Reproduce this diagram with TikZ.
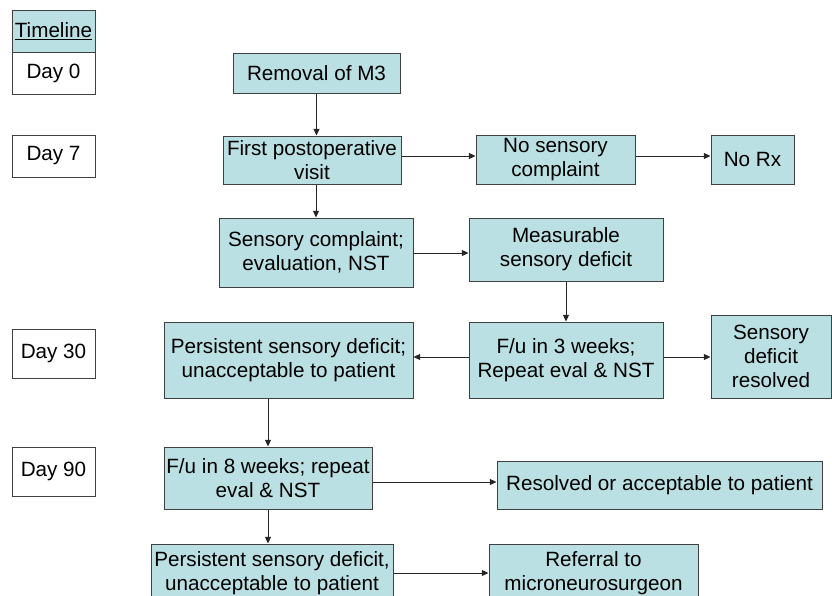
\documentclass[tikz,border=0pt]{standalone}
\usepackage{fontspec}
\setmainfont{Liberation Sans}
\usetikzlibrary{arrows.meta}

\definecolor{boxfill}{RGB}{187,224,227}
\tikzset{every picture/.style={line width=0.75pt}}
\tikzset{
  flowbox/.style 2 args={draw=black!75, fill=boxfill, align=center, inner sep=0.75pt,
    minimum width=#1*0.75pt, minimum height=#2*0.75pt, font=\fontsize{15.5}{18}\selectfont},
  daybox/.style 2 args={flowbox={#1}{#2}, fill=white},
  arr/.style={draw=black!85, -{Triangle[length=5pt,width=4.5pt]}},
}

\begin{document}
\begin{tikzpicture}[x=0.75pt,y=0.75pt,yscale=-1,xscale=1]
\clip (0,0) rectangle (832,596);

%Shape: Timeline column
\node[daybox={83}{42}, fill=boxfill] (tl) at (53.5,31) {\underline{Timeline}};
\node[daybox={83}{42}] (d0) at (53.5,73) {Day 0};
\node[daybox={83}{42}] (d7) at (53.5,156) {Day 7};
\node[daybox={83}{49}] (d30) at (53.5,353.5) {Day 30};
\node[daybox={83}{49}] (d90) at (53.5,471.5) {Day 90};

%Shape: Rectangle
\node[flowbox={167}{40}] (rem) at (316.5,73) {Removal of M3};
\node[flowbox={178}{48}] (first) at (312,160) {First postoperative\\visit};
\node[flowbox={159}{49}] (nocomp) at (555.5,159.5) {No sensory\\complaint};
\node[flowbox={83}{49}] (norx) at (752.5,159.5) {No Rx};
\node[flowbox={194}{69}] (comp) at (316,252.5) {Sensory complaint;\\evaluation, NST};
\node[flowbox={194}{63}] (meas) at (566,249.5) {Measurable\\sensory deficit};
\node[flowbox={194}{76}] (fu3) at (566,360) {F/u in 3 weeks;\\Repeat eval \& NST};
\node[flowbox={120}{83}] (resv) at (771,356.5) {Sensory\\deficit\\resolved};
\node[flowbox={249}{76}] (pers) at (288.5,360) {Persistent sensory deficit;\\unacceptable to patient};
\node[flowbox={208}{62}] (fu8) at (268,478) {F/u in 8 weeks; repeat\\eval \& NST};
\node[flowbox={325}{48}] (accept) at (659.5,485) {Resolved or acceptable to patient};
\node[flowbox={242}{58}] (pers2) at (272,573) {Persistent sensory deficit,\\unacceptable to patient};
\node[flowbox={209}{58}] (refer) at (593.5,573) {Referral to\\microneurosurgeon};

%Straight Lines
\draw[arr] (rem) -- (rem |- first.north);
\draw[arr] (first.east |- 0,156) -- (nocomp.west |- 0,156);
\draw[arr] (nocomp.east |- 0,156) -- (norx.west |- 0,156);
\draw[arr] (comp |- first.south) -- (comp);
\draw[arr] (comp.east |- 0,253) -- (meas.west |- 0,253);
\draw[arr] (meas) -- (fu3);
\draw[arr] (fu3.west |- 0,357) -- (pers.east |- 0,357);
\draw[arr] (fu3.east |- 0,357) -- (resv.west |- 0,357);
\draw[arr] (fu8 |- pers.south) -- (fu8);
\draw[arr] (fu8) -- (fu8 |- pers2.north);
\draw[arr] (fu8.east |- 0,482) -- (accept.west |- 0,482);
\draw[arr] (pers2) -- (pers2 -| refer.west);
\end{tikzpicture}
\end{document}
